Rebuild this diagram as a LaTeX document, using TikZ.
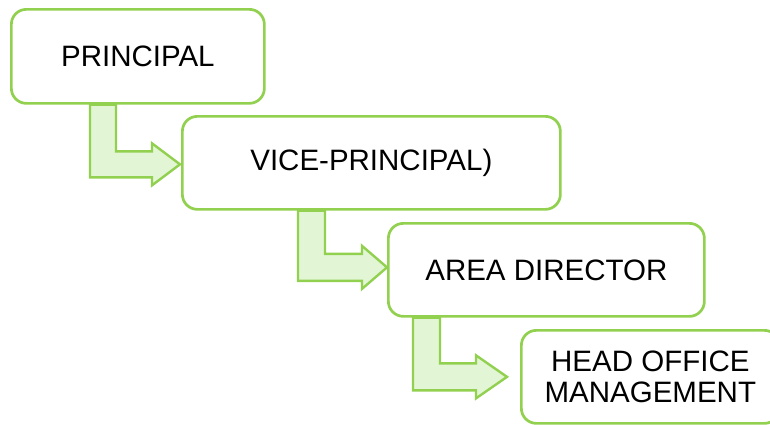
\documentclass[tikz,border=0pt]{standalone}
\usepackage{fontspec}
\setmainfont{Liberation Sans}
\usetikzlibrary{calc}
\definecolor{lgreen}{HTML}{92D050}
\definecolor{pgreen}{HTML}{E2F6D5}
\tikzset{
  orgbox/.style={draw=lgreen, line width=2.7pt, rounded corners=15pt, fill=white,
    anchor=north west, align=center, inner sep=0pt,
    font=\fontsize{29.5}{31.5}\selectfont},
  barrow/.style={draw=lgreen, fill=pgreen, line width=2.4pt, line join=miter}
}
\begin{document}
\begin{tikzpicture}[x=1pt,y=-1pt]
\useasboundingbox (0,0) rectangle (770,424);
\clip (0,0) rectangle (770,424);
\node[orgbox, minimum width=253pt, minimum height=94pt] (b1) at (10,8) {PRINCIPAL};
\node[orgbox, minimum width=378pt, minimum height=93pt] (b2) at (181,115) {VICE-PRINCIPAL)};
\node[orgbox, minimum width=258pt, minimum height=93pt] (b4) at (520,329) {HEAD OFFICE\\MANAGEMENT};
\node[orgbox, minimum width=316pt, minimum height=93pt] (b3) at (387,222) {AREA DIRECTOR};
% arrow 1
\coordinate (t1) at ($(b2.west)+(-1,1.5)$);
\draw[barrow] ($(b1.south west)+(80,0)$) -- ($(b1.south west)+(106,0)$)
  |- ($(t1)+(-28,-13)$) -- ($(t1)+(-28,-21)$) -- (t1) -- ($(t1)+(-28,21)$)
  -- ($(t1)+(-28,13)$) -| ($(b1.south west)+(80,0)$) -- cycle;
% arrow 2
\coordinate (t2) at ($(b3.west)+(0,-2.5)$);
\draw[barrow] ($(b2.south west)+(117,0)$) -- ($(b2.south west)+(144,0)$)
  |- ($(t2)+(-25,-13.5)$) -- ($(t2)+(-25,-21.5)$) -- (t2) -- ($(t2)+(-25,21.5)$)
  -- ($(t2)+(-25,13.5)$) -| ($(b2.south west)+(117,0)$) -- cycle;
% arrow 3
\coordinate (t3) at ($(b4.west)+(-13,0)$);
\draw[barrow] ($(b3.south west)+(26,0)$) -- ($(b3.south west)+(53,0)$)
  |- ($(t3)+(-31,-13.5)$) -- ($(t3)+(-31,-21.5)$) -- (t3) -- ($(t3)+(-31,21.5)$)
  -- ($(t3)+(-31,13.5)$) -| ($(b3.south west)+(26,0)$) -- cycle;
\end{tikzpicture}
\end{document}
